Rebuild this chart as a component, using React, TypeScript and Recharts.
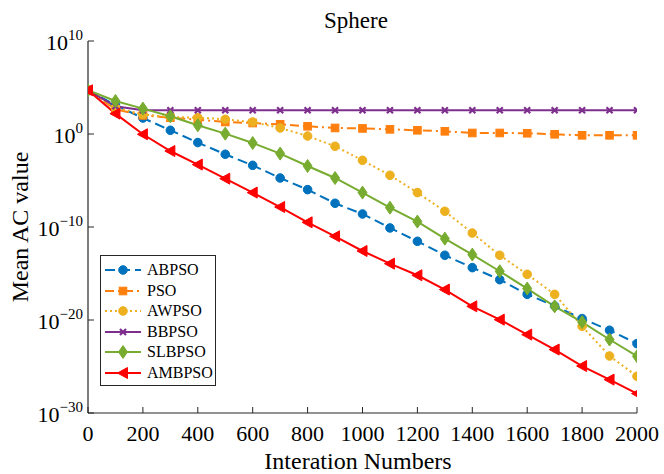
import React from 'react';
import { LineChart, Line, XAxis, YAxis } from 'recharts';

const iterations = [0, 100, 200, 300, 400, 500, 600, 700, 800, 900, 1000, 1100, 1200, 1300, 1400, 1500, 1600, 1700, 1800, 1900, 2000];

// log10 of the mean AC value
const abpso = [4.7, 3.1, 1.72, 0.4, -0.92, -2.18, -3.37, -4.73, -5.98, -7.45, -8.6, -10.1, -11.54, -13.04, -14.37, -15.66, -17.24, -18.5, -19.85, -21.1, -22.54];
const pso = [4.7, 2.65, 2.0, 1.75, 1.55, 1.29, 1.18, 1.04, 0.83, 0.65, 0.6, 0.5, 0.4, 0.29, 0.11, 0.11, 0.08, -0.03, -0.14, -0.14, -0.14];
const awpso = [4.7, 2.84, 2.1, 1.83, 1.76, 1.58, 1.29, 0.65, -0.22, -1.32, -2.83, -4.44, -6.3, -8.31, -10.65, -13.04, -15.09, -17.24, -20.68, -23.87, -26.05];
const bbpso = [4.7, 2.98, 2.55, 2.55, 2.55, 2.55, 2.55, 2.55, 2.55, 2.55, 2.55, 2.55, 2.55, 2.55, 2.55, 2.55, 2.55, 2.55, 2.55, 2.55, 2.55];
const slbpso = [4.7, 3.55, 2.73, 1.9, 0.94, 0.04, -0.97, -2.11, -3.44, -4.73, -6.3, -7.92, -9.42, -11.25, -12.97, -14.76, -16.62, -18.53, -20.22, -22.1, -23.9];
const ambpso = [4.7, 2.19, -0.03, -1.83, -3.29, -4.8, -6.3, -7.85, -9.5, -11.0, -12.58, -13.94, -15.19, -16.73, -18.53, -19.96, -21.57, -23.18, -24.95, -26.41, -27.91];

const xTicks = [0, 200, 400, 600, 800, 1000, 1200, 1400, 1600, 1800, 2000];
const yTicks = [1e-30, 1e-20, 1e-10, 1e0, 1e10];

const FONT = 'Liberation Serif, DejaVu Serif, serif';
const AXIS = '#262626';

const series = [
  { key: 'ABPSO', values: abpso, color: '#0072BD', dash: '10 5', marker: 'circle' },
  { key: 'PSO', values: pso, color: '#FF7F0E', dash: '9 4 2 4', marker: 'square' },
  { key: 'AWPSO', values: awpso, color: '#EDB120', dash: '2 3', marker: 'circle' },
  { key: 'BBPSO', values: bbpso, color: '#7E2F8E', dash: undefined, marker: 'x' },
  { key: 'SLBPSO', values: slbpso, color: '#77AC30', dash: undefined, marker: 'diamond' },
  { key: 'AMBPSO', values: ambpso, color: '#FF0000', dash: undefined, marker: 'triangle' },
];

const data = iterations.map((it, i) => {
  const row: any = { it };
  series.forEach((s) => {
    row[s.key] = Math.pow(10, s.values[i]);
  });
  return row;
});

const Marker = ({ kind, cx, cy, color }: any) => {
  if (cx == null || cy == null) return null;
  switch (kind) {
    case 'circle':
      return <circle cx={cx} cy={cy} r={4.3} fill={color} stroke={color} />;
    case 'square':
      return <rect x={cx - 3.8} y={cy - 3.8} width={7.6} height={7.6} fill={color} stroke={color} />;
    case 'x':
      return (
        <path
          d={`M${cx - 3} ${cy - 3}L${cx + 3} ${cy + 3}M${cx - 3} ${cy + 3}L${cx + 3} ${cy - 3}`}
          stroke={color}
          strokeWidth={2.2}
        />
      );
    case 'diamond':
      return (
        <polygon
          points={`${cx},${cy - 6.5} ${cx + 4.5},${cy} ${cx},${cy + 6.5} ${cx - 4.5},${cy}`}
          fill={color}
          stroke={color}
        />
      );
    case 'triangle':
      return (
        <polygon
          points={`${cx - 5.5},${cy} ${cx + 4.5},${cy - 5.5} ${cx + 4.5},${cy + 5.5}`}
          fill={color}
          stroke={color}
        />
      );
    default:
      return null;
  }
};

const fmtExp = (v: number) => {
  const e = Math.round(Math.log10(v));
  return e < 0 ? '\u2212' + -e : String(e);
};

const LeftTick = ({ x, y, payload }: any) => (
  <g>
    <line x1={x} x2={x + 6} y1={y} y2={y} stroke={AXIS} />
    <text x={x - 5} y={y + 9} textAnchor="end" fontFamily={FONT} fontSize={22} fill="#000">
      10
      <tspan dy={-10} fontSize={15}>{fmtExp(payload.value)}</tspan>
    </text>
  </g>
);

const RightTick = ({ x, y }: any) => <line x1={x} x2={x - 6} y1={y} y2={y} stroke={AXIS} />;

const BottomTick = ({ x, y, payload }: any) => (
  <g>
    <line x1={x} x2={x} y1={y} y2={y - 6} stroke={AXIS} />
    <text x={x} y={y + 28} textAnchor="middle" fontFamily={FONT} fontSize={22} fill="#000">
      {payload.value}
    </text>
  </g>
);

const TopTick = ({ x, y }: any) => <line x1={x} x2={x} y1={y} y2={y + 6} stroke={AXIS} />;

const LegendBox = () => (
  <div
    style={{
      position: 'absolute',
      left: 100,
      top: 255,
      width: 114,
      height: 129,
      border: `1px solid ${AXIS}`,
      background: '#fff',
    }}
  >
    {series.map((s, i) => (
      <div key={s.key} style={{ position: 'absolute', left: 3, top: 4 + i * 20.6, height: 20, display: 'flex', alignItems: 'center' }}>
        <svg width={38} height={20}>
          <line x1={1} x2={37} y1={10} y2={10} stroke={s.color} strokeWidth={2} strokeDasharray={s.dash} />
          <Marker kind={s.marker} cx={19} cy={10} color={s.color} />
        </svg>
        <span style={{ fontFamily: FONT, fontSize: 16, marginLeft: 5, color: '#000', lineHeight: '20px' }}>{s.key}</span>
      </div>
    ))}
  </div>
);

export default function App() {
  return (
    <div style={{ position: 'absolute', left: 0, top: 0, width: 664, height: 474, background: '#fff' }}>
      <LineChart width={664} height={474} data={data} margin={{ top: 41, right: 27, bottom: 0, left: 0 }}>
        <XAxis
          dataKey="it"
          type="number"
          domain={[0, 2000]}
          ticks={xTicks}
          interval={0}
          height={61}
          tickSize={0}
          tickMargin={0}
          tick={<BottomTick />}
          axisLine={{ stroke: AXIS, strokeWidth: 1.2 }}
          allowDataOverflow
        />
        <XAxis
          xAxisId="t"
          orientation="top"
          dataKey="it"
          type="number"
          domain={[0, 2000]}
          ticks={xTicks}
          interval={0}
          height={0}
          tickSize={0}
          tickMargin={0}
          tick={<TopTick />}
          axisLine={{ stroke: AXIS, strokeWidth: 1.2 }}
          allowDataOverflow
        />
        <YAxis
          type="number"
          scale="log"
          domain={[1e-30, 1e10]}
          ticks={yTicks}
          interval={0}
          width={88}
          tickSize={0}
          tickMargin={0}
          tick={<LeftTick />}
          axisLine={{ stroke: AXIS, strokeWidth: 1.2 }}
          allowDataOverflow
        />
        <YAxis
          yAxisId="r"
          orientation="right"
          type="number"
          scale="log"
          domain={[1e-30, 1e10]}
          ticks={yTicks}
          interval={0}
          width={0}
          tickSize={0}
          tickMargin={0}
          tick={<RightTick />}
          axisLine={{ stroke: AXIS, strokeWidth: 1.2 }}
          allowDataOverflow
        />
        {series.map((s) => (
          <Line
            key={s.key}
            type="linear"
            dataKey={s.key}
            stroke={s.color}
            strokeWidth={2}
            strokeDasharray={s.dash}
            isAnimationActive={false}
            dot={(p: any) => <Marker key={`${s.key}-${p.index}`} kind={s.marker} cx={p.cx} cy={p.cy} color={s.color} />}
            activeDot={false}
          />
        ))}
      </LineChart>
      <svg width={664} height={474} style={{ position: 'absolute', left: 0, top: 0, pointerEvents: 'none' }}>
        <text x={356} y={28} textAnchor="middle" fontFamily={FONT} fontSize={23} fill="#000">
          Sphere
        </text>
        <text x={358} y={469} textAnchor="middle" fontFamily={FONT} fontSize={24} fill="#000">
          Interation Numbers
        </text>
        <text
          x={28}
          y={227}
          textAnchor="middle"
          fontFamily={FONT}
          fontSize={24}
          fill="#000"
          transform="rotate(-90 28 227)"
        >
          Mean AC value
        </text>
      </svg>
      <LegendBox />
    </div>
  );
}
